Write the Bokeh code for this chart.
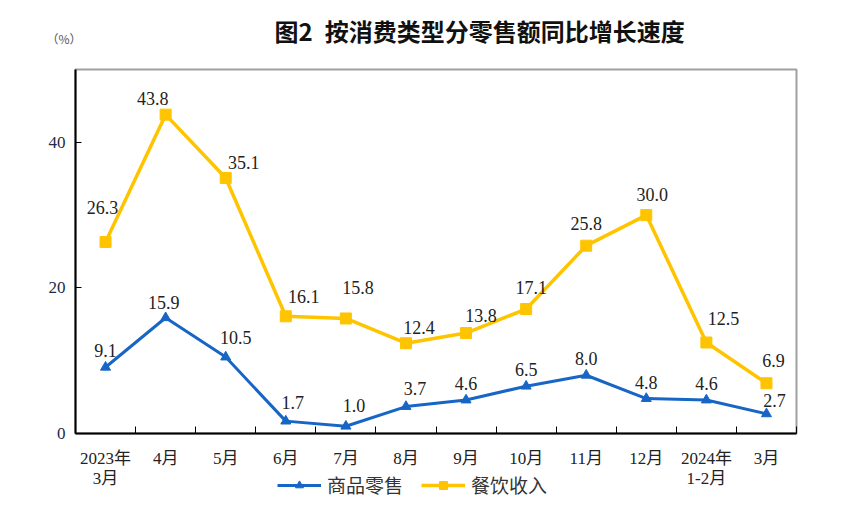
from bokeh.plotting import figure
from bokeh.models import FixedTicker, Legend, LegendItem, Title, ColumnDataSource
from bokeh.embed import file_html
from bokeh.resources import INLINE
from bokeh.core.properties import value

months = ["2023年\n3月", "4月", "5月", "6月", "7月", "8月", "9月", "10月", "11月", "12月", "2024年\n1-2月", "3月"]
retail = [9.1, 15.9, 10.5, 1.7, 1.0, 3.7, 4.6, 6.5, 8.0, 4.8, 4.6, 2.7]
catering = [26.3, 43.8, 35.1, 16.1, 15.8, 12.4, 13.8, 17.1, 25.8, 30.0, 12.5, 6.9]
y_ticks = [0, 20, 40]

# label offsets in screen pixels (style)
retail_dx = [0, -2, 10, 7, 8, 9, 0, 0, 0, 0, 0, 8]
retail_dy = [-17, -15, -20, -19, -21, -18, -17, -17, -17, -16, -17, -13]
cater_dx = [-3, -13, 18, 18, 12, 13, 15, 5, 0, 6, 17, 7]
cater_dy = [-35, -16, -15, -20, -31, -16, -18, -22, -22, -21, -24, -23]

BLUE = "#1766C6"
YELLOW = "#FFC400"
NUMFONT = "'Liberation Serif', 'Noto Sans CJK SC', serif"

idx = list(range(len(months)))

p = figure(frame_width=721, frame_height=364, x_range=(-0.5, len(months) - 0.5), y_range=(0, 50),
           output_backend="svg", toolbar_location=None,
           min_border_left=75, min_border_right=60, min_border_top=69, min_border_bottom=60)

p.xgrid.visible = False
p.ygrid.visible = False
p.outline_line_color = "#a0a0a0"
p.outline_line_width = 2

# main title (outermost)
p.title.text = "图2\u2002按消费类型分零售额同比增长速度"
p.title.text_font = "Noto Sans CJK SC"
p.title.text_font_size = "24px"
p.title.text_font_style = "bold"
p.title.text_color = "#111111"
p.title.align = "left"
p.title.offset = 199
try:
    p.title.standoff = -85
except Exception:
    p.title.standoff = 0

# unit title (inner, same line visually)
unit = Title(text="（%）", text_font="Noto Sans CJK SC", text_font_size="12px", text_font_style="normal",
             text_color="#555555", align="left", offset=-29, standoff=45)
p.add_layout(unit, "above")

# x axis
xa = p.xaxis[0]
xa.ticker = FixedTicker(ticks=idx, minor_ticks=[i - 0.5 for i in range(len(months) + 1)])
xa.major_label_overrides = {i: m for i, m in zip(idx, months)}
xa.major_tick_in = 0
xa.major_tick_out = 0
xa.major_tick_line_color = None
xa.minor_tick_in = 7
xa.minor_tick_out = 0
xa.minor_tick_line_color = "black"
xa.minor_tick_line_width = 1
xa.axis_line_color = "black"
xa.axis_line_width = 2
xa.major_label_text_font = NUMFONT
xa.major_label_text_font_size = "17px"
xa.major_label_text_color = "#222222"
xa.major_label_text_line_height = 1.1
xa.major_label_standoff = 15

# y axis
ya = p.yaxis[0]
ya.ticker = FixedTicker(ticks=y_ticks)
ya.major_tick_in = 6
ya.major_tick_out = 0
ya.minor_tick_line_color = None
ya.axis_line_color = "black"
ya.axis_line_width = 2
ya.major_label_text_font = NUMFONT
ya.major_label_text_font_size = "17px"
ya.major_label_text_color = "#222a44"
ya.major_label_standoff = 10

src_r = ColumnDataSource(dict(x=idx, y=retail, t=[f"{v:.1f}" for v in retail], dx=retail_dx, dy=retail_dy))
src_c = ColumnDataSource(dict(x=idx, y=catering, t=[f"{v:.1f}" for v in catering], dx=cater_dx, dy=cater_dy))

lr = p.line("x", "y", source=src_r, line_color=BLUE, line_width=3)
mr = p.scatter("x", "y", source=src_r, marker="triangle", size=10, fill_color=BLUE, line_color=BLUE)
lc = p.line("x", "y", source=src_c, line_color=YELLOW, line_width=3.5)
mc = p.scatter("x", "y", source=src_c, marker="square", size=11, fill_color=YELLOW, line_color=YELLOW)

for src in (src_r, src_c):
    p.text("x", "y", text="t", source=src, x_offset="dx", y_offset="dy",
           text_font=value("Liberation Serif"), text_font_size="18px", text_color="#222222",
           text_align="center", text_baseline="middle")

# legend placed from the right side panel (side panels are not clipped to the frame)
legend = Legend(items=[LegendItem(label="商品零售", renderers=[lr, mr]),
                       LegendItem(label="餐饮收入", renderers=[lc, mc])],
                location=(-519, -65), orientation="horizontal",
                border_line_color=None, background_fill_alpha=0,
                label_text_font="Noto Sans CJK SC", label_text_font_size="19px", label_text_color="#333333",
                glyph_width=44, glyph_height=20, label_height=20, spacing=18, padding=0, margin=0,
                label_standoff=6)
p.add_layout(legend, "right")

open("out.html", "w").write(file_html(p, INLINE))
